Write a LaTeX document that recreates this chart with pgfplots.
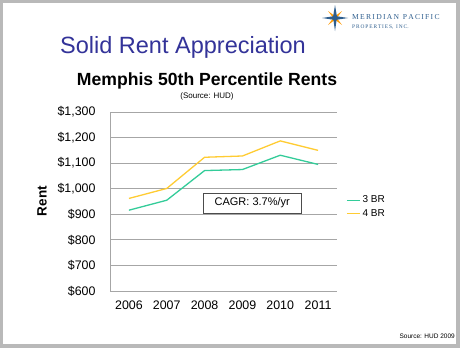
\documentclass[border=0pt]{standalone}
\usepackage{fontspec}
\setmainfont{Liberation Sans}
\newfontfamily\seriffont{Liberation Serif}
\usepackage{pgfplots}
\pgfplotsset{compat=1.18}
\definecolor{teal3}{HTML}{33CC99}
\definecolor{yel4}{HTML}{FFCC33}
\definecolor{titleblue}{HTML}{333399}
\definecolor{logoblue}{HTML}{2E5E8E}
\definecolor{gridgray}{HTML}{A6A6A6}
\begin{document}
\begin{tikzpicture}[x=1pt,y=-1pt]
\fill[gray!55] (0,0) rectangle (460,348);
\fill[white] (3,3) rectangle (456,344);
% logo
\fill[orange!80!yellow] (328,11) -- (336,17) -- (342,25) -- (334,19) -- cycle;
\fill[orange!80!yellow] (342,11) -- (336,19) -- (328,25) -- (334,17) -- cycle;
\fill[logoblue] (322,18) -- (335,16) -- (348,18) -- (335,20) -- cycle;
\fill[logoblue] (335,5) -- (337,17) -- (335,31) -- (333,17) -- cycle;
\node[anchor=base west, inner sep=0pt, text=logoblue, font=\seriffont\fontsize{7.6}{8}\selectfont] at (352,19) {M\,E\,R\,I\,D\,I\,A\,N\ \ P\,A\,C\,I\,F\,I\,C};
\node[anchor=base west, inner sep=0pt, text=logoblue, font=\seriffont\fontsize{5.4}{6}\selectfont] at (352,28) {P\,R\,O\,P\,E\,R\,T\,I\,E\,S,\ \ I\,N\,C.};
% titles
\node[anchor=base, inner sep=0pt, text=titleblue, font=\fontsize{23.5}{26}\selectfont] at (183,53) {Solid Rent Appreciation};
\node[anchor=base, inner sep=0pt, font=\bfseries\fontsize{17.6}{20}\selectfont] at (207,85) {Memphis 50th Percentile Rents};
\node[anchor=base, inner sep=0pt, font=\fontsize{8}{9}\selectfont] at (207,98) {(Source: HUD)};
\node[rotate=90, inner sep=0pt, font=\bfseries\fontsize{13.5}{15}\selectfont] at (42,201) {Rent};
\node[anchor=base east, inner sep=0pt, font=\fontsize{6.5}{7}\selectfont] at (455,338) {Source: HUD 2009};
\begin{axis}[
  at={(110pt,-291pt)}, anchor=south west,
  width=227pt, height=179pt, scale only axis,
  xmin=2005.5, xmax=2011.5, ymin=600, ymax=1300,
  xtick={2006,...,2011}, ytick={600,700,...,1300},
  axis x line*=bottom, axis y line*=left,
  axis line style={gridgray, line width=0.8pt},
  x axis line style={-}, y axis line style={-},
  ymajorgrids, grid style={gridgray, line width=0.8pt},
  major tick length=0pt,
  /pgf/number format/assume math mode=true,
  xticklabel style={/pgf/number format/1000 sep=, font=\fontsize{12.4}{13}\selectfont, yshift=-6pt},
  yticklabel={\$\pgfmathprintnumber[1000 sep={,}]{\tick}},
  yticklabel style={font=\fontsize{12.4}{13}\selectfont, xshift=-11pt},
  legend style={at={(1.04,0.47)}, anchor=west, draw=none, fill=none,
    font=\fontsize{10}{11}\selectfont, row sep=1pt, inner sep=0pt},
  legend cell align=left,
  legend image code/.code={\draw[#1] (0pt,0pt) -- (13pt,0pt);},
  clip=false,
]
\addplot[teal3, line width=1.3pt] coordinates {(2006,916) (2007,955) (2008,1071) (2009,1075) (2010,1131) (2011,1095)};
\addlegendentry{3 BR}
\addplot[yel4, line width=1.3pt] coordinates {(2006,962) (2007,1001) (2008,1123) (2009,1128) (2010,1187) (2011,1150)};
\addlegendentry{4 BR}
\node[draw=black!70, fill=white, line width=0.6pt, minimum width=98pt, minimum height=20pt, inner sep=2pt, font=\fontsize{11}{12}\selectfont] at (axis cs:2009.26,944) {CAGR: 3.7\%/yr};
\end{axis}
\end{tikzpicture}
\end{document}
